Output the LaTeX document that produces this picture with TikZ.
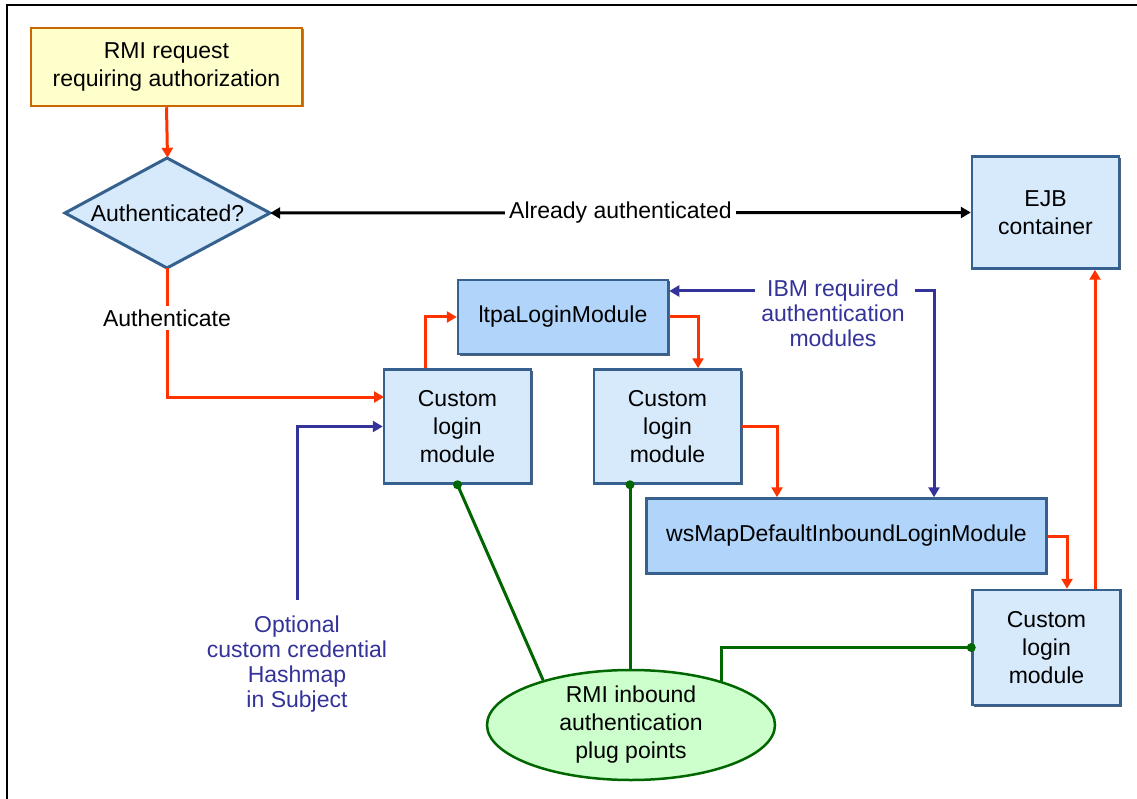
\documentclass[tikz,border=0pt]{standalone}
\usepackage{fontspec}
\setmainfont{Liberation Sans}
\usetikzlibrary{arrows.meta,shapes.geometric,calc,shadows}
\definecolor{redl}{HTML}{FF3300}
\definecolor{bluel}{HTML}{333399}
\definecolor{greenl}{HTML}{006600}
\definecolor{boxlight}{HTML}{D6EAFC}
\definecolor{boxdark}{HTML}{B0D4FA}
\definecolor{boxborder}{HTML}{36618F}
\definecolor{boxshadow}{HTML}{1E3A5C}
\definecolor{reqfill}{HTML}{FFFFCC}
\definecolor{reqborder}{HTML}{CC6600}
\definecolor{ellfill}{HTML}{CCFFCC}
\begin{document}
\begin{tikzpicture}[x=1pt,y=-1pt,
  boxfont/.style={font=\fontsize{23}{28}\selectfont},
  lblfont/.style={font=\fontsize{23}{25}\selectfont},
  blbox/.style={boxfont,rectangle,draw=boxborder,line width=2.5pt,fill=boxlight,align=center,inner sep=0pt,
    drop shadow={shadow xshift=1.5pt,shadow yshift=-1.5pt,fill=boxshadow,opacity=0.8}},
  dkbox/.style={blbox,fill=boxdark},
  redarr/.style={draw=redl,line width=3pt,-{Triangle[length=10pt,width=11pt]}},
  bluearr/.style={draw=bluel,line width=3pt,-{Triangle[length=10pt,width=11pt]}},
  greenln/.style={draw=greenl,line width=3pt},
  gdot/.style={fill=greenl,draw=none},
  bluetxt/.style={lblfont,text=bluel,align=center,inner sep=2pt},
  blacktxt/.style={lblfont,text=black,fill=white,inner sep=4pt}]
\useasboundingbox (0,0) rectangle (1137,799);
\fill[white] (0,0) rectangle (1137,799);
\draw[black,line width=1.5pt] (7,799) -- (7,5) -- (1137,5);

% nodes
\node[boxfont,rectangle,draw=reqborder,line width=2.5pt,fill=reqfill,align=center,inner sep=0pt,
  minimum width=271pt,minimum height=78pt,
  drop shadow={shadow xshift=1.5pt,shadow yshift=-1.5pt,fill=reqborder!70!black,opacity=0.7}]
  (req) at (166.5,67) {RMI request\\requiring authorization};

\draw[draw=boxborder,line width=3pt,fill=boxlight,line join=miter]
  (65,213) -- (167,158) -- (270,213) -- (167,268) -- cycle;
\node[lblfont,minimum width=205pt,minimum height=110pt,inner sep=0pt] (auth) at (167.5,213) {Authenticated?};

\node[blbox,minimum width=147pt,minimum height=112pt] (ejb) at (1045.5,212.5) {EJB\\container};
\node[dkbox,minimum width=210pt,minimum height=74pt] (itpa) at (563,317) {ltpaLoginModule};
\node[blbox,minimum width=147pt,minimum height=114pt] (c1) at (457.5,426.5) {Custom\\login\\module};
\node[blbox,minimum width=147pt,minimum height=114pt] (c2) at (667.5,426.5) {Custom\\login\\module};
\node[dkbox,minimum width=400pt,minimum height=75pt] (ws) at (846.5,536) {wsMapDefaultInboundLoginModule};
\node[blbox,minimum width=148pt,minimum height=115pt] (c3) at (1046.5,647.5) {Custom\\login\\module};
\node[boxfont,ellipse,draw=greenl,line width=2.5pt,fill=ellfill,align=center,inner sep=0pt,
  minimum width=288pt,minimum height=110pt] (rmi) at (631,725) {RMI inbound\\authentication\\plug points};

\node[bluetxt] (ibm) at (833,313.5) {IBM required\\authentication\\modules};
\node[bluetxt] (opt) at (297,664) {Optional\\custom credential\\Hashmap\\in Subject};

\coordinate (c1in) at (384,397);
\coordinate (ibml) at (755,291);
\coordinate (ibmr) at (915,291);
\coordinate (optt) at (297,600);

% red flow
\draw[redarr] (req.south) -- (auth.north);
\draw[redarr] (auth.south) |- (c1in);
\node[blacktxt] (authlbl) at (167,318) {Authenticate};
\draw[redarr] ([xshift=-32.5pt]c1.north) |- (itpa.west);
\draw[redarr] (itpa.east) -| ([xshift=30.5pt]c2.north);
\draw[redarr] (c2.east) -| ([xshift=-69.5pt]ws.north);
\draw[redarr] (ws.east) -| ([xshift=20.5pt]c3.north);
\draw[redarr] ([xshift=48.5pt]c3.north) -- ([xshift=48.5pt]c3.north |- ejb.south);

% black
\draw[black,line width=3pt,{Triangle[length=10pt,width=11pt]}-{Triangle[length=10pt,width=11pt]}] (auth.east) -- (ejb.west)
  node[blacktxt,midway] (already) {Already authenticated};

% blue
\draw[bluearr] (ibml) -- (ibml -| itpa.east);
\draw[bluearr] (ibmr) -| ([xshift=87.5pt]ws.north);
\draw[bluearr] (optt) |- (c1.west);

% green
\draw[greenln] (c1.south) -- (rmi.153);
\draw[greenln] ([xshift=-37.5pt]c2.south) -- ([xshift=-37.5pt]c2.south |- rmi.north);
\draw[greenln] (c3.west) -| (rmi.26);
\fill[gdot] (c1.south) circle (4.5pt);
\fill[gdot] ([xshift=-37.5pt]c2.south) circle (4.5pt);
\fill[gdot] (c3.west) circle (4.5pt);
\end{tikzpicture}
\end{document}
